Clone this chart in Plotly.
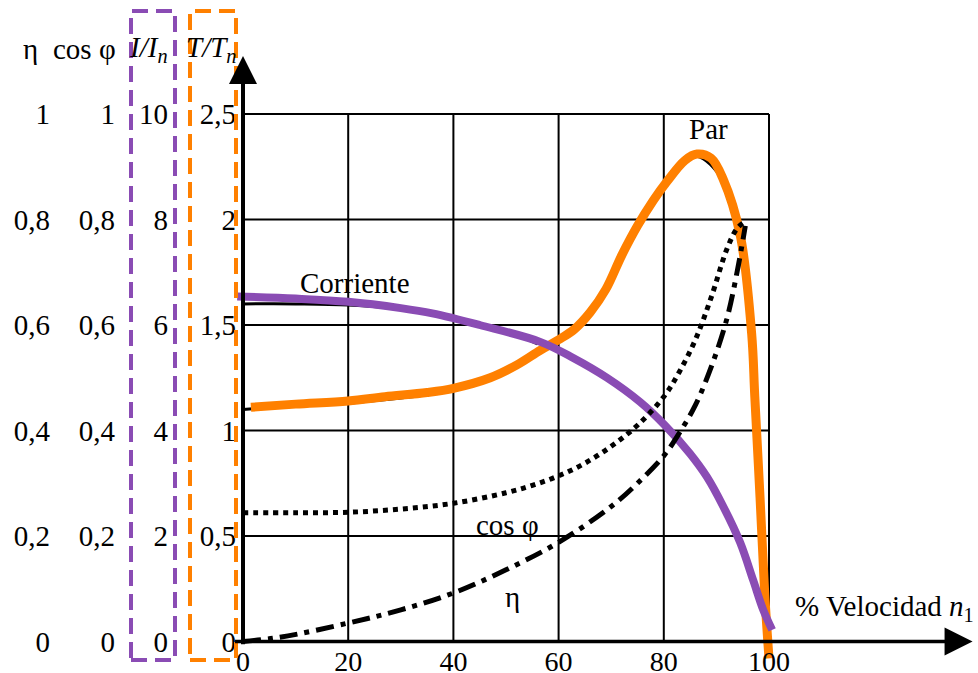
import plotly.graph_objects as go

# ---------------- data ----------------
speed_ticks = [0, 20, 40, 60, 80, 100]
torque_ticks = [0, 0.5, 1, 1.5, 2, 2.5]
torque_labels = ["0", "0,5", "1", "1,5", "2", "2,5"]
current_ticks = [0, 2, 4, 6, 8, 10]
current_labels = ["0", "2", "4", "6", "8", "10"]
pf_ticks = [0, 0.2, 0.4, 0.6, 0.8, 1]
pf_labels = ["0", "0,2", "0,4", "0,6", "0,8", "1"]

# Par (T/Tn) - coloured overlay
speed_par = [1.5, 10, 20, 27, 35, 40, 47, 52, 56.5, 60, 63, 66, 69, 72, 75, 78, 80.6,
             84, 86.3, 89, 91.3, 94.5, 96.7, 97.3, 98.3, 99.2, 100]
par = [1.11, 1.125, 1.14, 1.16, 1.18, 1.20, 1.25, 1.31, 1.38, 1.43, 1.48, 1.56, 1.67,
       1.83, 1.97, 2.09, 2.18, 2.28, 2.31, 2.29, 2.19, 1.93, 1.46, 1.16, 0.68, 0.22, -0.08]
# Par - original black curve
speed_par_orig = [0, 10, 20, 35, 47, 56.5, 66, 75, 84, 86.3, 91.3, 96.7, 98.3, 100]
par_orig = [1.10, 1.115, 1.13, 1.17, 1.24, 1.37, 1.55, 1.96, 2.27, 2.30, 2.18, 1.46, 0.68, 0.0]

# Corriente (I/In)
speed_corr = [-1.1, 10, 20, 30, 36, 45, 56.5, 62.7, 69.2, 75.5, 80.2, 85, 88.2, 91.3,
              94.5, 97, 98.9, 100.6]
corriente = [6.54, 6.50, 6.44, 6.32, 6.22, 6.00, 5.68, 5.38, 5.00, 4.54, 4.10, 3.56,
             3.12, 2.56, 1.88, 1.16, 0.60, 0.22]
speed_corr_orig = [0, 10, 20, 30, 40, 50, 56]
corriente_orig = [6.40, 6.40, 6.38, 6.30, 6.14, 5.88, 5.64]

# cos phi
speed_cos = [0, 10, 20, 30, 40, 50, 55, 60, 65, 70, 75, 80, 83, 86, 89, 92, 94, 95.8]
cos_phi = [0.244, 0.244, 0.245, 0.251, 0.262, 0.282, 0.296, 0.314, 0.338, 0.37, 0.41,
           0.464, 0.512, 0.572, 0.652, 0.744, 0.784, 0.798]

# eta
speed_eta = [0, 7, 20, 30, 40, 50, 60, 70, 75, 80, 83, 86, 89, 92, 94, 95.5]
eta = [0, 0.008, 0.035, 0.06, 0.092, 0.136, 0.188, 0.256, 0.30, 0.352, 0.396, 0.448,
       0.52, 0.612, 0.704, 0.788]

# ---------------- layout geometry ----------------
W, H = 978, 673
X0_PX, PX_PER_X = 243, 5.26
Y0_PX, PX_PER_T = 641.5, 211.0
XR = [-2, 139]
YR = [-0.1, 2.78]
x_dom = [(X0_PX + PX_PER_X * XR[0]) / W, min(1.0, (X0_PX + PX_PER_X * XR[1]) / W)]
y_dom = [1 - (Y0_PX - PX_PER_T * YR[0]) / H, 1 - (Y0_PX - PX_PER_T * YR[1]) / H]

FONT = "Liberation Serif"
FS = 29
ORANGE = "#ff8000"
PURPLE = "#8a4cb4"

fig = go.Figure()

fig.add_trace(go.Scatter(x=speed_cos, y=cos_phi, yaxis="y3", mode="lines",
                         line=dict(color="black", width=5, dash="5px,5px", shape="spline"),
                         hoverinfo="skip", showlegend=False))
fig.add_trace(go.Scatter(x=speed_eta, y=eta, yaxis="y4", mode="lines",
                         line=dict(color="black", width=5, dash="18px,7px,5px,7px", shape="spline"),
                         hoverinfo="skip", showlegend=False))
fig.add_trace(go.Scatter(x=speed_par_orig, y=par_orig, mode="lines",
                         line=dict(color="black", width=3, shape="spline"),
                         hoverinfo="skip", showlegend=False))
fig.add_trace(go.Scatter(x=speed_corr_orig, y=corriente_orig, yaxis="y2", mode="lines",
                         line=dict(color="black", width=3, shape="spline"),
                         hoverinfo="skip", showlegend=False))
fig.add_trace(go.Scatter(x=speed_corr, y=corriente, yaxis="y2", mode="lines",
                         line=dict(color=PURPLE, width=8, shape="spline"),
                         hoverinfo="skip", showlegend=False))
fig.add_trace(go.Scatter(x=speed_par, y=par, mode="lines",
                         line=dict(color=ORANGE, width=9, shape="spline"),
                         hoverinfo="skip", showlegend=False))

# grid (built from the tick lists)
shapes = []
for v in speed_ticks[1:]:
    shapes.append(dict(type="line", xref="x", yref="y", x0=v, x1=v,
                       y0=torque_ticks[0], y1=torque_ticks[-1],
                       line=dict(color="black", width=2), layer="below"))
for t in torque_ticks[1:]:
    shapes.append(dict(type="line", xref="x", yref="y", x0=speed_ticks[0], x1=speed_ticks[-1],
                       y0=t, y1=t, line=dict(color="black", width=2), layer="below"))
# dashed highlight boxes around the I/In and T/Tn scales
shapes.append(dict(type="rect", xref="paper", yref="paper",
                   x0=131 / W, x1=175 / W, y0=1 - 660 / H, y1=1 - 11 / H,
                   line=dict(color=PURPLE, width=4, dash="16px,8px")))
shapes.append(dict(type="rect", xref="paper", yref="paper",
                   x0=190 / W, x1=236 / W, y0=1 - 660 / H, y1=1 - 11 / H,
                   line=dict(color=ORANGE, width=4, dash="16px,8px")))

def header(px, text):
    return dict(x=px / W, y=1 - 49 / H, xref="paper", yref="paper", text=text,
                xanchor="center", yanchor="middle", showarrow=False,
                font=dict(family=FONT, size=FS, color="black"))

def label(x, y, text, anchor="center"):
    return dict(x=x, y=y, xref="x", yref="y", text=text, showarrow=False,
                xanchor=anchor, yanchor="middle",
                font=dict(family=FONT, size=FS, color="black"))

annotations = [
    # axes with arrow heads
    dict(x=0, y=YR[1] - 0.005, ax=0, ay=-0.02, xref="x", yref="y", axref="x", ayref="y",
         text="", showarrow=True, arrowhead=2, arrowsize=1.4, arrowwidth=4,
         arrowcolor="black", standoff=0, startstandoff=0),
    dict(x=XR[1] - 0.3, y=0, ax=-1.8, ay=0, xref="x", yref="y", axref="x", ayref="y",
         text="", showarrow=True, arrowhead=2, arrowsize=1.6, arrowwidth=3.5,
         arrowcolor="black", standoff=0, startstandoff=0),
    # curve labels
    label(21.3, 1.70, "Corriente"),
    label(88.5, 2.43, "Par"),
    label(50.3, 0.55, "cos φ"),
    label(51.3, 0.21, "η"),
    label(104.6, 0.16, "% Velocidad <i>n</i><sub>1</sub>", anchor="left"),
    # scale headers
    header(30, "η"),
    header(84, "cos φ"),
    header(148, "<i>I/I<sub>n</sub></i>"),
    header(211, "<i>T/T<sub>n</sub></i>"),
]

tick_font = dict(family=FONT, size=FS, color="black")
common_y = dict(domain=y_dom, showgrid=False, zeroline=False, showline=False, ticks="",
                tickfont=tick_font, anchor="free", side="left", automargin=False,
                fixedrange=True)

fig.update_layout(
    width=W, height=H,
    margin=dict(l=0, r=0, t=0, b=0),
    paper_bgcolor="white", plot_bgcolor="white",
    showlegend=False,
    xaxis=dict(domain=x_dom, range=XR, showgrid=False, zeroline=False, showline=False,
               ticks="", tickvals=speed_ticks, ticktext=[str(v) for v in speed_ticks],
               tickfont=dict(family=FONT, size=28, color="black"), anchor="free",
               position=1 - Y0_PX / H, automargin=False, ticklabelstandoff=0,
               fixedrange=True),
    yaxis=dict(range=YR, tickvals=torque_ticks, ticktext=torque_labels,
               position=236 / W, **common_y),
    yaxis2=dict(range=[YR[0] * 4, YR[1] * 4], tickvals=current_ticks, ticktext=current_labels,
                position=168 / W, overlaying="y", **common_y),
    yaxis3=dict(range=[YR[0] / 2.5, YR[1] / 2.5], tickvals=pf_ticks, ticktext=pf_labels,
                position=115 / W, overlaying="y", **common_y),
    yaxis4=dict(range=[YR[0] / 2.5, YR[1] / 2.5], tickvals=pf_ticks, ticktext=pf_labels,
                position=50 / W, overlaying="y", **common_y),
    shapes=shapes,
    annotations=annotations,
)

fig.write_html("out.html", config={"displayModeBar": False},
               post_script="document.body.style.margin='0px';")
